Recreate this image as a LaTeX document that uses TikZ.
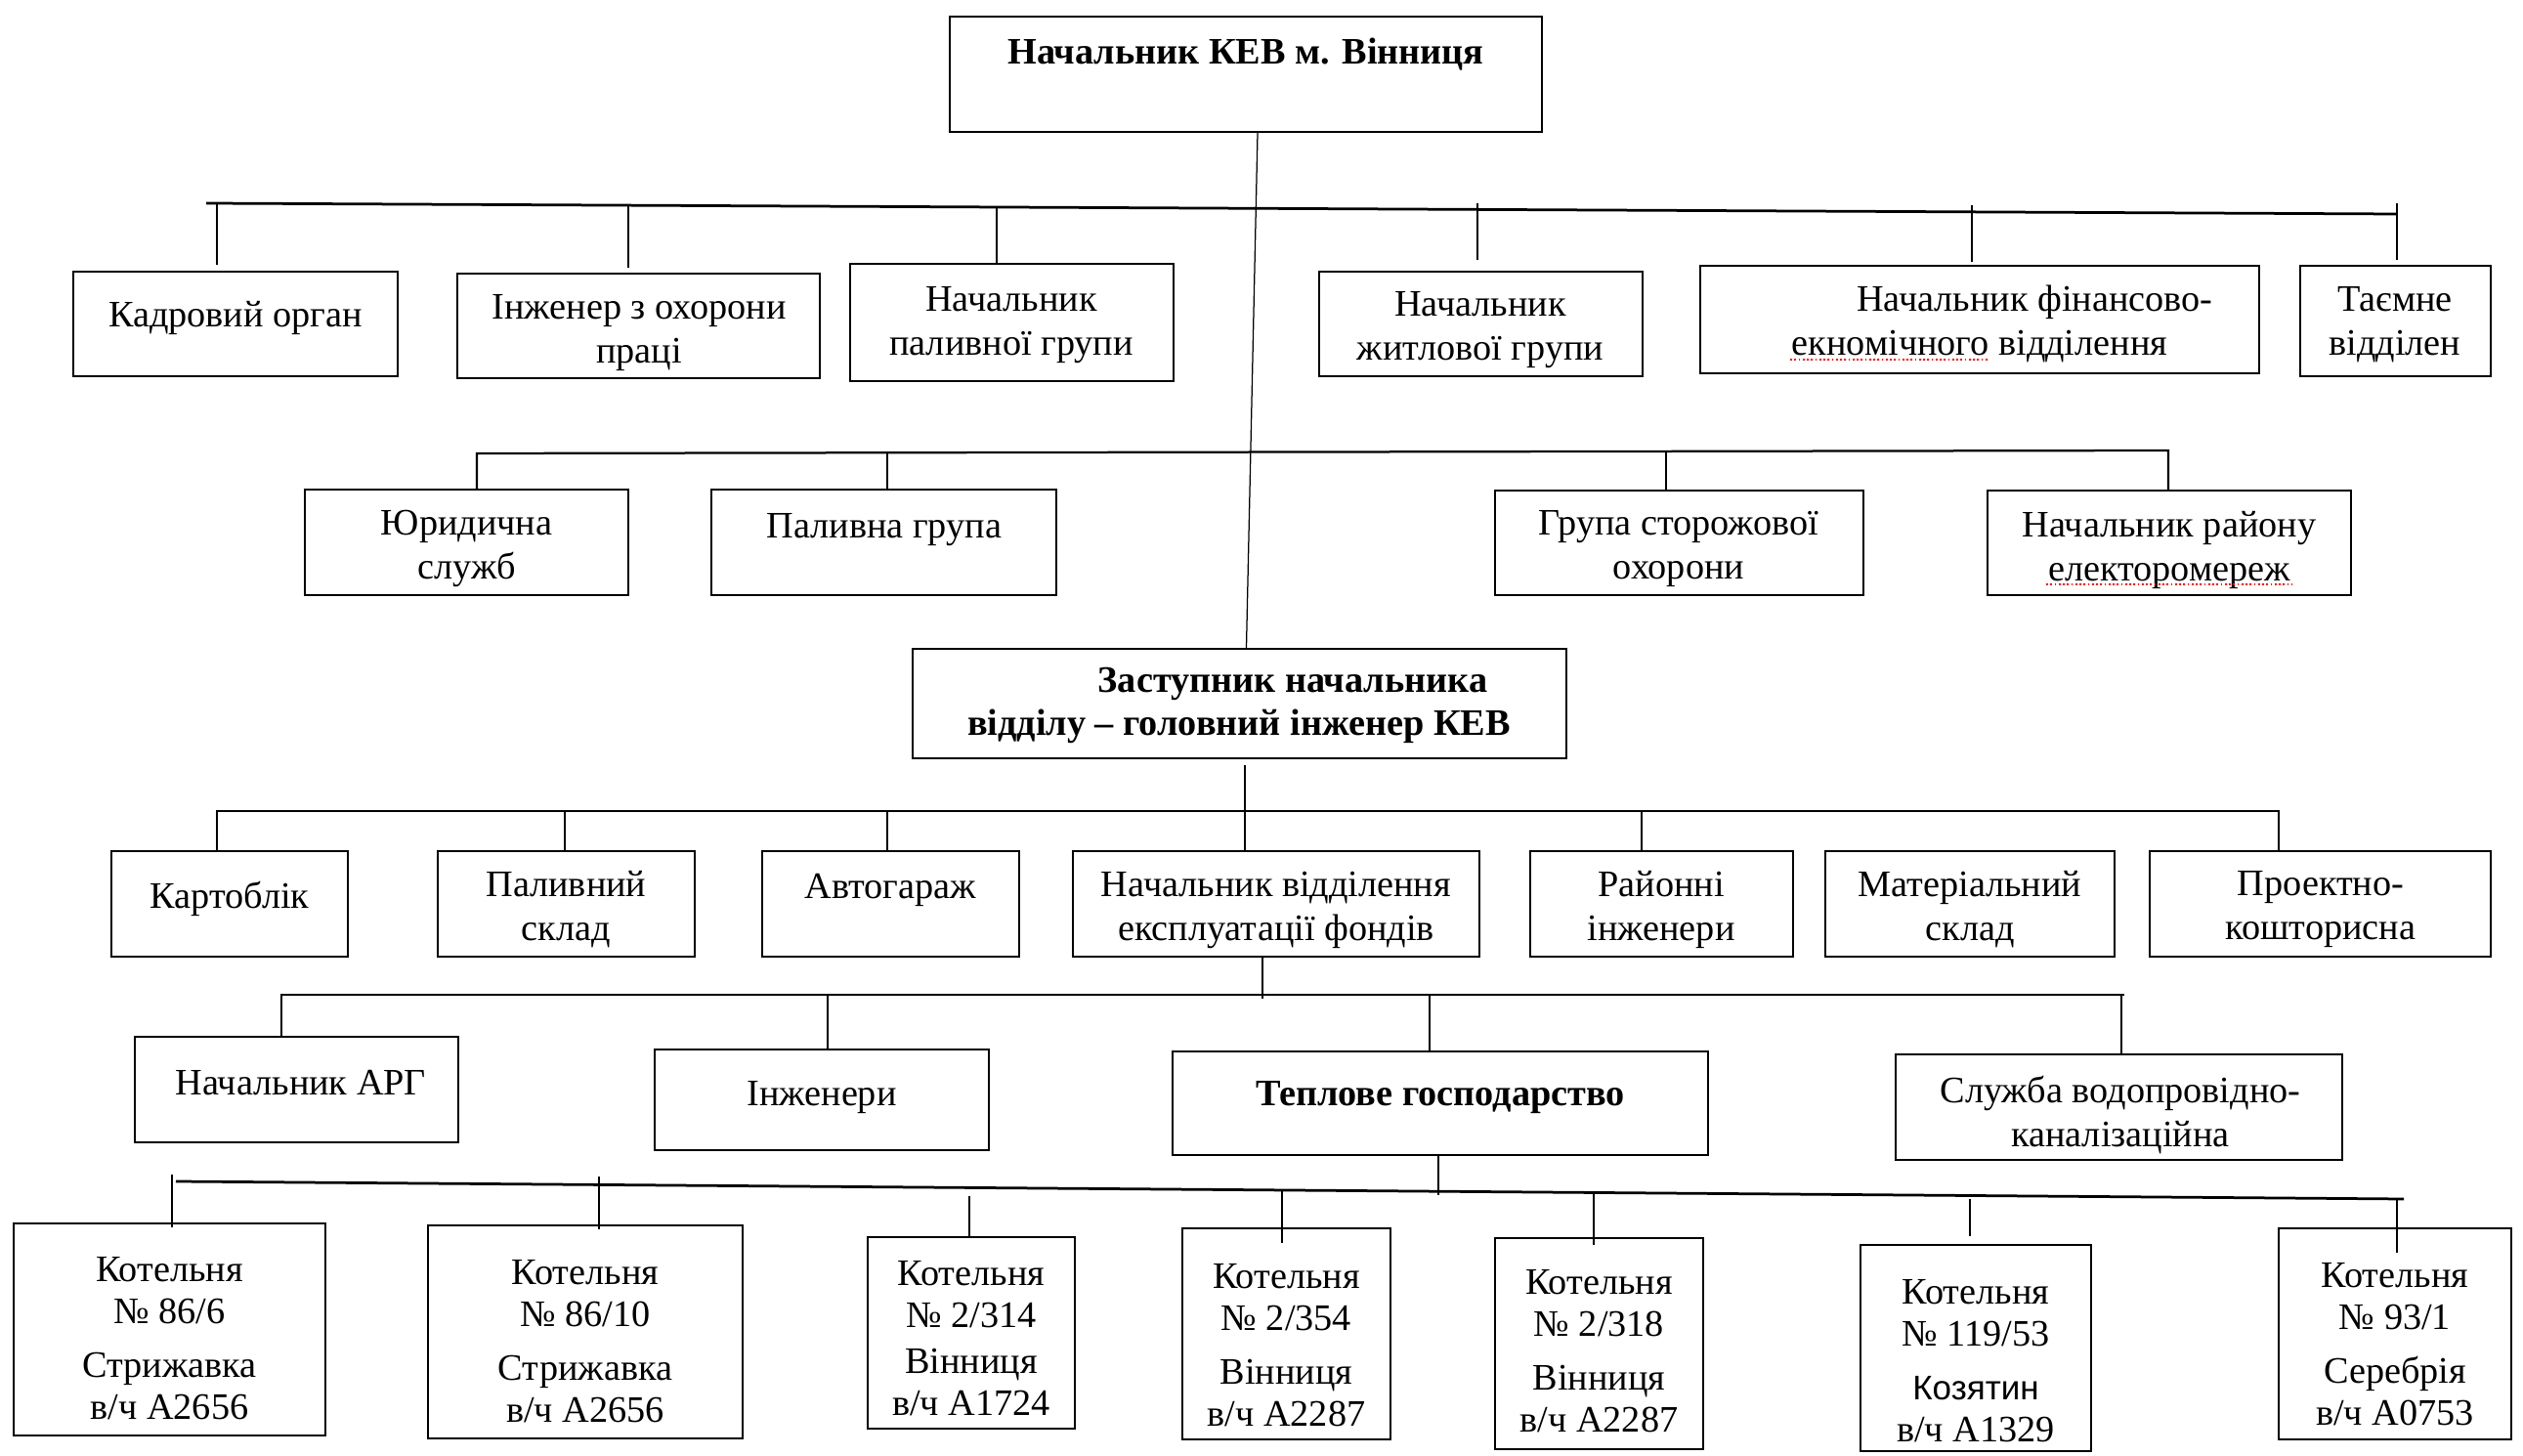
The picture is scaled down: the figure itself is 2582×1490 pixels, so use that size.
\documentclass[tikz,border=0pt]{standalone}
\usepackage{fontspec}
\setmainfont{Liberation Serif}
\newfontfamily\sansalt{Liberation Sans}
\usetikzlibrary{fit,calc}
\newcommand\orgbox[5]{%
  \coordinate (#1-a) at (#2,#3);
  \coordinate (#1-b) at (#4,#5);
  \node[box, fit=(#1-a)(#1-b)] (#1) {};}
\begin{document}
\begin{tikzpicture}[x=0.4pt,y=-0.4pt,
  box/.style={draw, line width=0.9pt, inner sep=0pt},
  txt/.style={align=center, font=\fontsize{15.3}{18}\selectfont, inner sep=0pt},
  ktxt/.style={align=center, font=\fontsize{15.3}{17.2}\selectfont, inner sep=0pt},
  bus/.style={line width=0.9pt},
  bigbus/.style={line width=1.1pt},
  drop/.style={line width=0.5pt},
  spell/.style={red, densely dotted, line width=0.7pt}]
\useasboundingbox (0,0) rectangle (2582,1490);

% ---------- boxes ----------
\orgbox{top}{972}{17}{1578}{135}
\node[txt, font=\fontsize{15.3}{18}\selectfont\bfseries] (top-t) at (1275,56) {Начальник КЕВ м. Вінниця};

% row 1
\orgbox{kadr}{75}{278}{407}{385}
\node[txt] (kadr-t) at (241,325) {Кадровий орган};
\orgbox{ohor}{468}{280}{839}{387}
\node[txt] (ohor-t) at (654,340.5) {Інженер з охорони\\праці};
\orgbox{palgr}{870}{270}{1201}{390}
\node[txt] (palgr-t) at (1035,332.5) {Начальник\\паливної групи};
\orgbox{zhyt}{1350}{278}{1681}{385}
\node[txt] (zhyt-t) at (1515,337.5) {Начальник\\житлової групи};
\orgbox{fin}{1740}{272}{2312}{382}
\node[txt] (fin-t) at (2026,331.5) {\hspace*{45pt}Начальник фінансово-\\екномічного відділення};
\orgbox{taem}{2354}{272}{2549}{385}
\node[txt] (taem-t) at (2451,332.5) {Таємне\\відділен};

% row 2
\orgbox{yur}{312}{501}{643}{609}
\node[txt] (yur-t) at (477.5,561.5) {Юридична\\служб};
\orgbox{palgrupa}{728}{501}{1081}{609}
\node[txt] (palgrupa-t) at (905,542) {Паливна група};
\orgbox{storozh}{1530}{502}{1907}{609}
\node[txt] (storozh-t) at (1718,562) {Група сторожової\\охорони};
\orgbox{rayon}{2034}{502}{2406}{609}
\node[txt] (rayon-t) at (2220,562.5) {Начальник району\\електоромереж};

% deputy
\orgbox{zast}{934}{664}{1603}{776}
\node[txt, font=\fontsize{15.3}{17.6}\selectfont\bfseries] (zast-t) at (1268,722) {\hspace*{44pt}Заступник начальника\\відділу – головний інженер КЕВ};

% row 3
\orgbox{kart}{114}{871}{356}{979}
\node[txt] (kart-t) at (235,920) {Картоблік};
\orgbox{palsklad}{448}{871}{711}{979}
\node[txt] (palsklad-t) at (579.5,931) {Паливний\\склад};
\orgbox{avto}{780}{871}{1043}{979}
\node[txt] (avto-t) at (911.5,911) {Автогараж};
\orgbox{nachvid}{1098}{871}{1514}{979}
\node[txt] (nachvid-t) at (1306,931) {Начальник відділення\\експлуатації фондів};
\orgbox{rayinzh}{1566}{871}{1835}{979}
\node[txt] (rayinzh-t) at (1700,931) {Районні\\інженери};
\orgbox{mat}{1868}{871}{2164}{979}
\node[txt] (mat-t) at (2016,931) {Матеріальний\\склад};
\orgbox{proekt}{2200}{871}{2549}{979}
\node[txt] (proekt-t) at (2375,931) {Проектно-\\кошторисна};

% row 4
\orgbox{arg}{138}{1061}{469}{1169}
\node[txt] (arg-t) at (308,1108) {Начальник АРГ};
\orgbox{inzh}{670}{1074}{1012}{1177}
\node[txt] (inzh-t) at (841,1123) {Інженери};
\orgbox{tepl}{1200}{1076}{1748}{1182}
\node[txt, font=\fontsize{15.3}{18}\selectfont\bfseries] (tepl-t) at (1474,1123) {Теплове господарство};
\orgbox{vodo}{1940}{1079}{2397}{1187}
\node[txt] (vodo-t) at (2170,1141.5) {Служба водопровідно-\\каналізаційна};

% row 5
\orgbox{k1}{14}{1252}{333}{1469}
\node[ktxt] (k1-t) at (173.5,1370) {Котельня\\№ 86/6\\[4.8pt]Стрижавка\\в/ч А2656};
\orgbox{k2}{438}{1254}{760}{1472}
\node[ktxt] (k2-t) at (599,1373) {Котельня\\№ 86/10\\[4.8pt]Стрижавка\\в/ч А2656};
\orgbox{k3}{888}{1266}{1100}{1462}
\node[ktxt] (k3-t) at (994,1370) {Котельня\\№ 2/314\\[1.5pt]Вінниця\\в/ч А1724};
\orgbox{k4}{1210}{1257}{1423}{1473}
\node[ktxt] (k4-t) at (1316.5,1376.5) {Котельня\\№ 2/354\\[4.8pt]Вінниця\\в/ч А2287};
\orgbox{k5}{1530}{1267}{1743}{1483}
\node[ktxt] (k5-t) at (1636.5,1383) {Котельня\\№ 2/318\\[4.8pt]Вінниця\\в/ч А2287};
\orgbox{k6}{1904}{1274}{2140}{1485}
\node[ktxt] (k6-t) at (2022,1392.5) {Котельня\\№ 119/53\\[4.8pt]{\sansalt\fontsize{14}{17.2}\selectfont Козятин}\\в/ч А1329};
\orgbox{k7}{2332}{1257}{2570}{1473}
\node[ktxt] (k7-t) at (2451,1376) {Котельня\\№ 93/1\\[4.8pt]Серебрія\\в/ч А0753};

% spell-check underlines
\draw[spell] (1832,368) -- (2036,368);
\draw[spell] (2094,598) -- (2345,598);

% ---------- connectors ----------
% main vertical
\draw[drop] ($(top.south)+(12,0)$) -- ($(zast.north)+(7,0)$);

% row 1 bus
\coordinate (b1L) at (211,208);
\coordinate (b1R) at (2453,219);
\draw[bigbus] (b1L) -- (b1R);
\coordinate (d1a) at (222,208);
\coordinate (d1b) at (643,210);
\coordinate (d1c) at (1020,212);
\coordinate (d1d) at (1512,208);
\coordinate (d1e) at (2018,210);
\coordinate (d1f) at (2453,208);
\draw[drop, shorten >=2.4pt] (d1a) -- (d1a |- kadr.north);
\draw[line width=1pt, shorten >=2pt] (d1b) -- (d1b |- ohor.north);
\draw[drop] (d1c) -- (d1c |- palgr.north);
\draw[drop, shorten >=4.4pt] (d1d) -- (d1d |- zhyt.north);
\draw[drop, shorten >=1.2pt] (d1e) -- (d1e |- fin.north);
\draw[drop, shorten >=2pt] (d1f) -- (d1f |- taem.north);

% row 2 bus
\coordinate (r2a) at (488,464);
\coordinate (r2b) at (908,463.5);
\coordinate (r2c) at (1705,462);
\coordinate (r2d) at (2219,461);
\draw[bus] (r2a |- yur.north) -- (r2a) -- (r2d) -- (r2d |- rayon.north);
\draw[drop] (r2b) -- (r2b |- palgrupa.north);
\draw[drop] (r2c) -- (r2c |- storozh.north);

% row 3 bus
\coordinate (r3a) at (222,830);
\coordinate (r3b) at (578,830);
\coordinate (r3c) at (908,830);
\coordinate (r3m) at (1274,830);
\coordinate (r3e) at (1680,830);
\coordinate (r3f) at (2332,830);
\draw[bus] (r3a |- kart.north) -- (r3a) -- (r3f) -- (r3f |- proekt.north);
\draw[drop] (r3b) -- (r3b |- palsklad.north);
\draw[drop] (r3c) -- (r3c |- avto.north);
\draw[drop] (r3e) -- (r3e |- rayinzh.north);
\draw[drop, shorten <=2.4pt] (r3m |- zast.south) -- (r3m |- nachvid.north);

% row 4 bus
\coordinate (r4m) at (1292,1022);
\draw[drop] (r4m |- nachvid.south) -- (r4m);
\coordinate (r4a) at (288,1018);
\coordinate (r4b) at (847,1019);
\coordinate (r4c) at (1463,1019);
\coordinate (r4d) at (2171,1019);
\coordinate (r4e) at (2174,1018);
\draw[bus] (r4a |- arg.north) -- (r4a) -- (r4e);
\draw[drop] (r4b) -- (r4b |- inzh.north);
\draw[drop] (r4c) -- (r4c |- tepl.north);
\draw[drop] (r4d) -- (r4d |- vodo.north);

% row 5 bus
\coordinate (r5m) at (1472,1223);
\draw[drop] (r5m |- tepl.south) -- (r5m);
\coordinate (b5L) at (180,1209);
\coordinate (b5R) at (2460,1227);
\draw[bigbus] (b5L) -- (b5R);
\coordinate (d5a) at (176,1202);
\coordinate (d5b) at (613,1204);
\coordinate (d5c) at (992,1224);
\coordinate (d5d) at (1312,1218);
\coordinate (d5e) at (1631,1222);
\coordinate (d5f) at (2016,1227);
\coordinate (d5g) at (2453,1227);
\draw[drop] (d5a) -- ($(d5a |- k1.north)+(0,5)$);
\draw[drop] (d5b) -- ($(d5b |- k2.north)+(0,5)$);
\draw[drop] (d5c) -- (d5c |- k3.north);
\draw[drop] (d5d) -- ($(d5d |- k4.north)+(0,16)$);
\draw[drop] (d5e) -- ($(d5e |- k5.north)+(0,8)$);
\draw[drop, shorten >=3.2pt] (d5f) -- (d5f |- k6.north);
\draw[drop] (d5g) -- ($(d5g |- k7.north)+(0,26)$);
\end{tikzpicture}
\end{document}
